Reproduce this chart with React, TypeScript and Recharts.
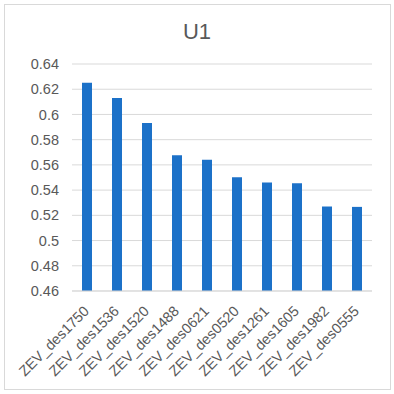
import { BarChart, Bar, XAxis, YAxis, CartesianGrid } from "recharts";

const categories = [
  "ZEV_des1750",
  "ZEV_des1536",
  "ZEV_des1520",
  "ZEV_des1488",
  "ZEV_des0621",
  "ZEV_des0520",
  "ZEV_des1261",
  "ZEV_des1605",
  "ZEV_des1982",
  "ZEV_des0555",
];
const u1Values = [0.6252, 0.6131, 0.5933, 0.5677, 0.564, 0.5502, 0.546, 0.5455, 0.527, 0.5267];
const yTicks = [0.46, 0.48, 0.5, 0.52, 0.54, 0.56, 0.58, 0.6, 0.62, 0.64];

const data = categories.map((name, i) => ({ name, value: u1Values[i] }));

const FONT = "'Liberation Sans', Arial, sans-serif";
const GREY = "#595959";

function XTick(props: any) {
  const { x, y, payload } = props;
  const ax = x + 3;
  const ay = y + 21;
  return (
    <text
      x={ax}
      y={ay}
      textAnchor="end"
      fill={GREY}
      fontSize={14.5}
      fontFamily={FONT}
      transform={`rotate(-45, ${ax}, ${ay})`}
    >
      {payload.value}
    </text>
  );
}

export default function App() {
  return (
    <div style={{ position: "absolute", left: 0, top: 0, width: 394, height: 394, background: "#fff" }}>
      {/* chart frame */}
      <div
        style={{
          position: "absolute",
          left: 4,
          top: 4,
          width: 385,
          height: 384,
          border: "1.5px solid #D9D9D9",
        }}
      />
      <div
        style={{
          position: "absolute",
          left: 0,
          top: 20.7,
          width: 394,
          textAlign: "center",
          fontFamily: FONT,
          fontSize: 22,
          lineHeight: "22px",
          color: GREY,
        }}
      >
        U1
      </div>
      <div style={{ position: "absolute", left: 0, top: 0 }}>
        <BarChart
          width={394}
          height={394}
          data={data}
          margin={{ top: 64, right: 22, bottom: 0, left: 0 }}
        >
          <CartesianGrid vertical={false} stroke="#D9D9D9" />
          <XAxis
            dataKey="name"
            height={103}
            interval={0}
            tickLine={false}
            tickSize={0}
            tickMargin={0}
            axisLine={{ stroke: "#D9D9D9" }}
            tick={<XTick />}
          />
          <YAxis
            width={72}
            domain={[0.46, 0.64]}
            ticks={yTicks}
            allowDataOverflow
            axisLine={false}
            tickLine={false}
            tickSize={0}
            tickMargin={13}
            tick={{ fill: GREY, fontSize: 14.5, fontFamily: FONT }}
            tickFormatter={(v: number) => String(Number(v.toFixed(2)))}
          />
          <Bar dataKey="value" fill="#1C71C8" barSize={10} isAnimationActive={false} />
        </BarChart>
      </div>
    </div>
  );
}
